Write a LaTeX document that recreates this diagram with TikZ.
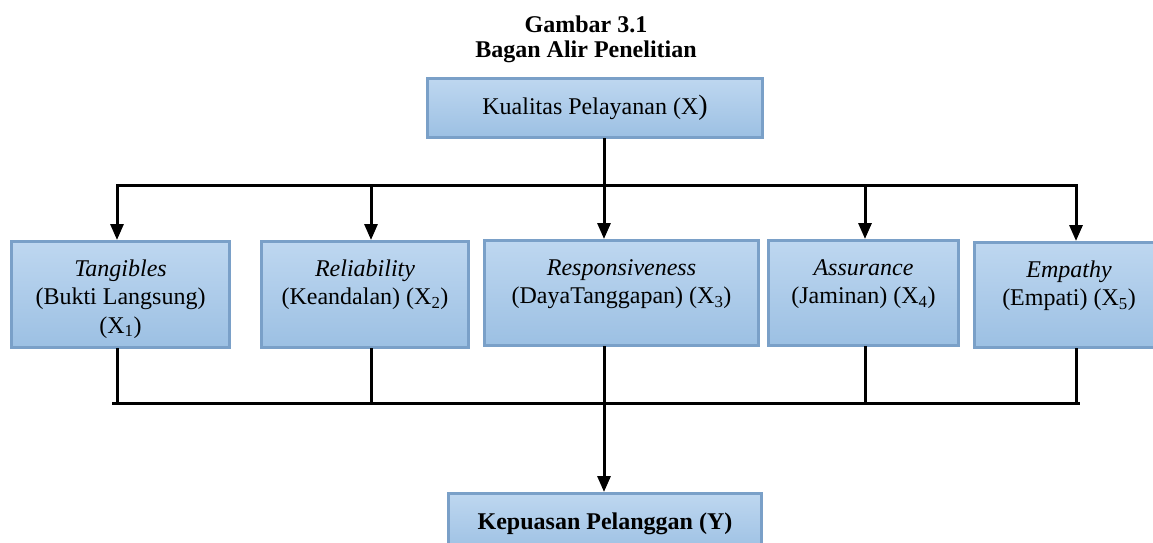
\documentclass[tikz,border=0pt]{standalone}
\usepackage{fontspec}
\setmainfont{Liberation Serif}
\usetikzlibrary{arrows.meta}
\definecolor{boxedge}{RGB}{122,160,200}
\definecolor{boxtop}{RGB}{190,215,240}
\definecolor{boxbot}{RGB}{156,192,227}
\begin{document}
\begin{tikzpicture}[x=1pt,y=-1pt,
  box/.style={draw=boxedge, line width=3pt, top color=boxtop, bottom color=boxbot, inner sep=0pt},
  txt/.style={align=center, inner sep=0pt, font=\fontsize{24pt}{28.5pt}\selectfont},
  ttl/.style={inner sep=0pt, anchor=base, font=\fontsize{24pt}{25pt}\selectfont\bfseries},
  wire/.style={line width=3pt, black, line cap=rect},
  arr/.style={line width=3pt, black, -{Triangle[length=16pt,width=13pt]}}]
\useasboundingbox (0,0) rectangle (1153,542);
\clip (0,0) rectangle (1153,542);

% titles
\node[ttl] (title1) at (586,32) {Gambar 3.1};
\node[ttl] (title2) at (586,57) {Bagan Alir Penelitian};

% boxes
\node[box, txt, minimum width=335pt, minimum height=59pt] (top) at (595,108)
  {Kualitas Pelayanan (X{\fontsize{28pt}{28pt}\selectfont)}};
\node[box, minimum width=218pt, minimum height=106pt] (b1) at (120.5,294.5) {};
\node[box, minimum width=207pt, minimum height=106pt] (b2) at (365,294.5) {};
\node[box, minimum width=274pt, minimum height=105pt] (b3) at (621.5,293) {};
\node[box, minimum width=190pt, minimum height=105pt] (b4) at (863.5,293) {};
\node[box, minimum width=189pt, minimum height=105pt] (b5) at (1069,295) {};
\node[box, txt, minimum width=313pt, minimum height=60pt] (bot) at (605,523.5)
  {\textbf{Kepuasan Pelanggan (Y)}};

% box texts
\node[txt, anchor=north] (t1) at ([yshift=-16pt]b1.north)
  {\strut\textit{Tangibles}\\\strut(Bukti Langsung)\\\strut(X\textsubscript{1})};
\node[txt, anchor=north] (t2) at ([yshift=-16pt]b2.north)
  {\strut\textit{Reliability}\\\strut(Keandalan) (X\textsubscript{2})};
\node[txt, anchor=north] (t3) at ([yshift=-16pt]b3.north)
  {\strut\textit{Responsiveness}\\\strut(DayaTanggapan) (X\textsubscript{3})};
\node[txt, anchor=north] (t4) at ([yshift=-16pt]b4.north)
  {\strut\textit{Assurance}\\\strut(Jaminan) (X\textsubscript{4})};
\node[txt, anchor=north] (t5) at ([yshift=-16pt]b5.north)
  {\strut\textit{Empathy}\\\strut(Empati) (X\textsubscript{5})};

% junction coordinates
\coordinate (c1) at (117,185);
\coordinate (c2) at (371,185);
\coordinate (c3) at (604,185);
\coordinate (c4) at (865,185);
\coordinate (c5) at (1076,185);
\coordinate (d1) at (113,403);
\coordinate (d3) at (604,403);
\coordinate (d5) at (1078,403);

% upper distribution
\draw[wire] (top.south -| c3) -- (c3);
\draw[wire] (c1) -- (c5);
\draw[arr] (c1) -- (c1 |- b1.north);
\draw[arr] (c2) -- (c2 |- b2.north);
\draw[arr] (c3) -- (c3 |- b3.north);
\draw[arr] (c4) -- (c4 |- b4.north);
\draw[arr] (c5) -- (c5 |- b5.north);

% lower collection
\draw[wire] (b1.south -| c1) -- (c1 |- d3);
\draw[wire] (b2.south -| c2) -- (c2 |- d3);
\draw[wire] (b3.south -| c3) -- (d3);
\draw[wire] (b4.south -| c4) -- (c4 |- d3);
\draw[wire] (b5.south -| c5) -- (c5 |- d3);
\draw[wire] (d1) -- (d5);
\draw[arr] (d3) -- (bot.north -| d3);
\end{tikzpicture}
\end{document}
